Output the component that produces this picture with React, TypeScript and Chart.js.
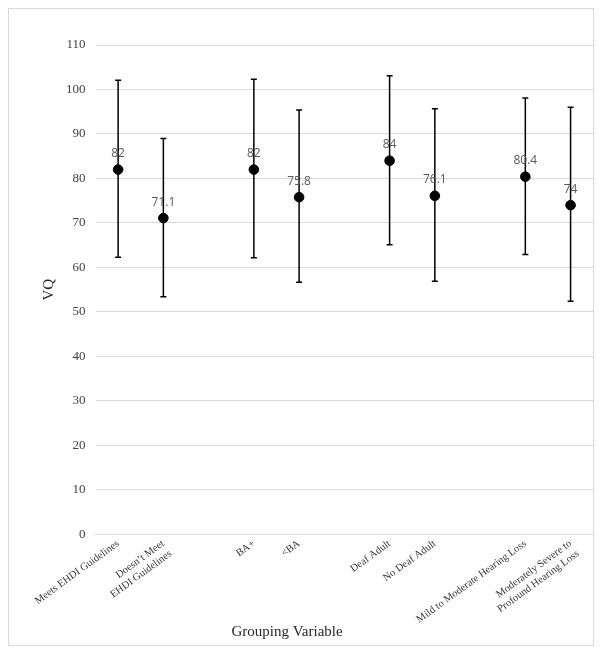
import React, { useEffect, useRef } from "react";
import { Chart, registerables } from "chart.js";
Chart.register(...registerables);

const categories: (string | string[])[] = [
  "Meets EHDI Guidelines",
  ["Doesn\u2019t Meet", "EHDI Guidelines"],
  "",
  "BA+",
  "<BA",
  "",
  "Deaf Adult",
  "No Deaf Adult",
  "",
  "Mild to Moderate Hearing Loss",
  ["Moderately Severe to", "Profound Hearing Loss"],
];
const means: (number | null)[] = [82, 71.1, null, 82, 75.8, null, 84, 76.1, null, 80.4, 74];
const upper: (number | null)[] = [102.1, 89.0, null, 102.3, 95.4, null, 103.1, 95.7, null, 98.1, 96.0];
const lower: (number | null)[] = [62.3, 53.4, null, 62.2, 56.7, null, 65.1, 56.9, null, 62.9, 52.4];
const meanLabels: (string | null)[] = ["82", "71.1", null, "82", "75.8", null, "84", "76.1", null, "80.4", "74"];
const yMin = 0;
const yMax = 110;
const yStep = 10;
const xTitle = "Grouping Variable";
const yTitle = "VQ";

const SERIF = "'Liberation Serif', 'Times New Roman', serif";

const errorBarPlugin = {
  id: "errorBars",
  beforeDatasetsDraw(chart: any) {
    const ctx = chart.ctx;
    const xs = chart.scales.x;
    const ys = chart.scales.y;
    ctx.save();
    ctx.strokeStyle = "#000000";
    ctx.lineWidth = 1.5;
    for (let i = 0; i < means.length; i++) {
      const u = upper[i];
      const l = lower[i];
      if (u == null || l == null) continue;
      const x = xs.getPixelForValue(i);
      const yt = ys.getPixelForValue(u);
      const yb = ys.getPixelForValue(l);
      ctx.beginPath();
      ctx.moveTo(x, yt);
      ctx.lineTo(x, yb);
      ctx.moveTo(x - 3, yt);
      ctx.lineTo(x + 3, yt);
      ctx.moveTo(x - 3, yb);
      ctx.lineTo(x + 3, yb);
      ctx.stroke();
    }
    ctx.restore();
  },
  afterDatasetsDraw(chart: any) {
    const ctx = chart.ctx;
    const xs = chart.scales.x;
    const ys = chart.scales.y;
    ctx.save();
    ctx.fillStyle = "#595959";
    ctx.font = "12px 'Open Sans', 'Noto Sans', sans-serif";
    ctx.textAlign = "center";
    ctx.textBaseline = "middle";
    for (let i = 0; i < means.length; i++) {
      const m = means[i];
      const t = meanLabels[i];
      if (m == null || t == null) continue;
      ctx.fillText(t, xs.getPixelForValue(i), ys.getPixelForValue(m) - 16);
    }
    ctx.restore();
  },
  afterDraw(chart: any) {
    const ctx = chart.ctx;
    const xs = chart.scales.x;
    ctx.save();
    ctx.fillStyle = "#262626";
    ctx.font = `15px ${SERIF}`;
    ctx.textAlign = "center";
    ctx.textBaseline = "middle";
    ctx.fillText(xTitle, 287 - 9, xs.bottom - 13);
    ctx.restore();
  },
};

export default function App() {
  const ref = useRef<HTMLCanvasElement>(null);
  useEffect(() => {
    if (!ref.current) return;
    const chart = new Chart(ref.current, {
      type: "line",
      data: {
        labels: categories as any,
        datasets: [
          {
            data: means as any,
            showLine: false,
            pointRadius: 4.8,
            pointHoverRadius: 4.8,
            pointBackgroundColor: "#000000",
            pointBorderColor: "#000000",
            borderColor: "#000000",
          },
        ],
      },
      options: {
        animation: false,
        responsive: true,
        maintainAspectRatio: false,
        layout: { padding: { top: 36, right: 0, left: 31, bottom: 0 } },
        plugins: { legend: { display: false }, tooltip: { enabled: false } },
        scales: {
          x: {
            offset: true,
            grid: { display: false, drawTicks: false },
            border: { display: true, color: "#d9d9d9", width: 1 },
            ticks: {
              autoSkip: false,
              minRotation: 36,
              maxRotation: 36,
              padding: 3,
              color: "#333333",
              font: { family: SERIF, size: 10.5 },
            },
            title: {
              display: true,
              text: xTitle,
              color: "rgba(0,0,0,0)",
              font: { family: SERIF, size: 15 },
              padding: { top: -12, bottom: 0 },
            },
          },
          y: {
            min: yMin,
            max: yMax,
            grid: { color: "#d9d9d9", lineWidth: 1, drawTicks: false },
            border: { display: false },
            ticks: {
              stepSize: yStep,
              padding: 10,
              color: "#404040",
              font: { family: SERIF, size: 13 },
            },
            title: {
              display: true,
              text: yTitle,
              color: "#262626",
              font: { family: SERIF, size: 15 },
              padding: { top: 0, bottom: -2 },
            },
          },
        },
      },
      plugins: [errorBarPlugin],
    });
    return () => chart.destroy();
  }, []);
  return (
    <div
      style={{
        width: 586,
        height: 638,
        border: "1px solid #d9d9d9",
        boxSizing: "border-box",
        background: "#ffffff",
      }}
    >
      <div style={{ position: "relative", width: 590, height: 636 }}>
        <canvas ref={ref} />
      </div>
    </div>
  );
}
